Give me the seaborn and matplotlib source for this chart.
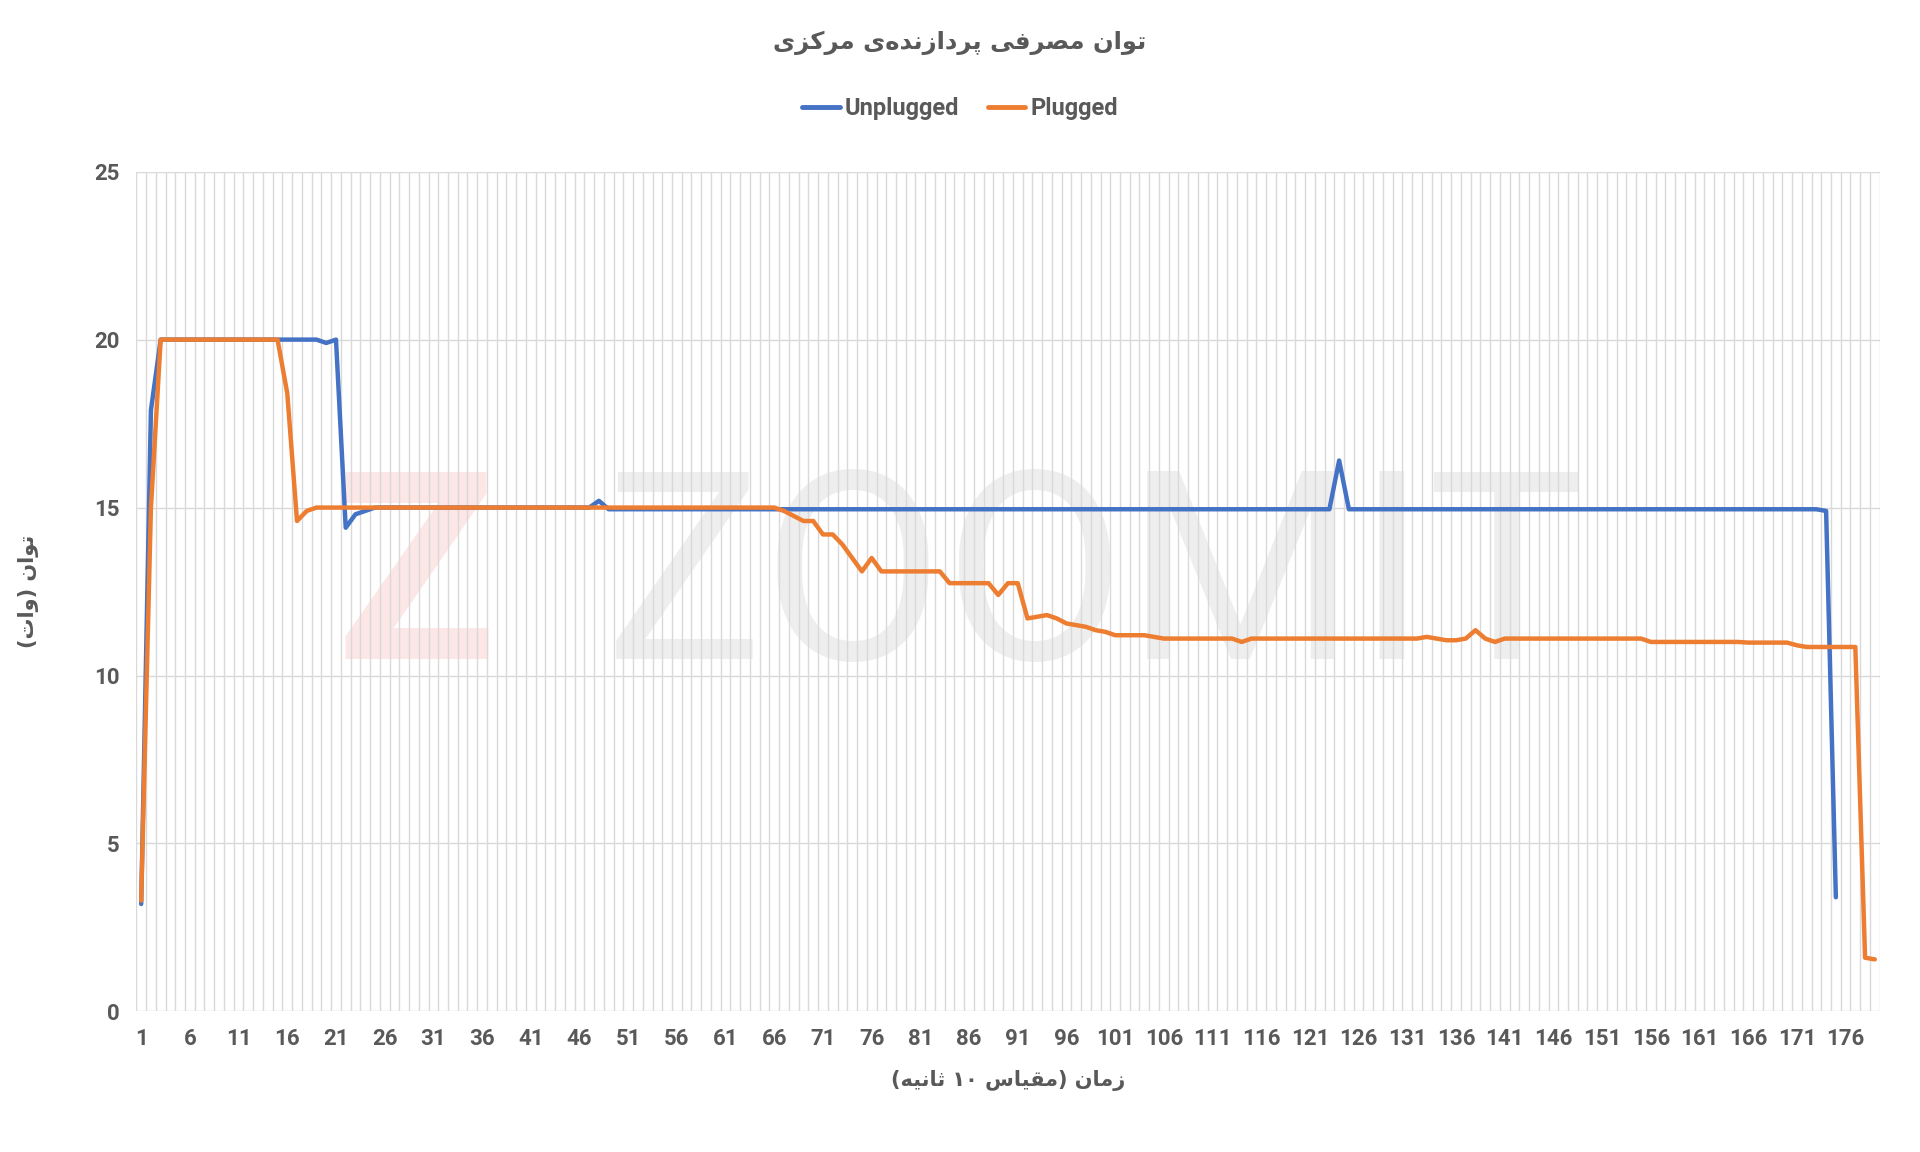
import numpy as np
import pandas as pd
import matplotlib
matplotlib.use("Agg")
import matplotlib.pyplot as plt
import seaborn as sns

# --- data (time index in 10 s steps) ---
unplugged = ([3.2, 17.9] + [20.0] * 17 + [19.9, 20.0] + [14.4, 14.8, 14.9]
             + [15.0] * 23 + [15.2] + [14.95] * 75 + [16.4] + [14.95] * 49
             + [14.9, 3.4])
plugged = ([3.3, 15.0] + [20.0] * 13 + [18.4, 14.6, 14.9] + [15.0] * 48
           + [14.9, 14.75, 14.6, 14.6]
           + [14.2, 14.2, 13.9, 13.5, 13.1, 13.5]
           + [13.1] * 7 + [12.75] * 5 + [12.4, 12.75, 12.75]
           + [11.7, 11.75, 11.8, 11.7, 11.55, 11.5, 11.45, 11.35, 11.3]
           + [11.2] * 4 + [11.15, 11.1] + [11.1] * 7 + [11.0] + [11.1] * 18
           + [11.15, 11.1, 11.05, 11.05, 11.1, 11.35, 11.1, 11.0]
           + [11.1] * 15 + [11.0] * 10 + [10.98] * 5 + [10.9] + [10.85] * 6
           + [1.6, 1.55])
n_points = len(plugged)
time_idx = np.arange(1, n_points + 1)
unplugged = unplugged + [np.nan] * (n_points - len(unplugged))

title_fa = "توان مصرفی پردازنده‌ی مرکزی"
ylabel_fa = "توان (وات)"
xlabel_fa = "زمان (مقیاس ۱۰ ثانیه)"

# --- tiny Persian shaper (matplotlib does no Arabic shaping / bidi) ---
FORMS = {  # isolated, final, initial, medial
    "ا": ("\uFE8D", "\uFE8E"), "د": ("\uFEA9", "\uFEAA"), "ر": ("\uFEAD", "\uFEAE"),
    "ز": ("\uFEAF", "\uFEB0"), "و": ("\uFEED", "\uFEEE"),
    "ت": ("\uFE95", "\uFE96", "\uFE97", "\uFE98"), "ث": ("\uFE99", "\uFE9A", "\uFE9B", "\uFE9C"),
    "س": ("\uFEB1", "\uFEB2", "\uFEB3", "\uFEB4"), "ص": ("\uFEB9", "\uFEBA", "\uFEBB", "\uFEBC"),
    "ف": ("\uFED1", "\uFED2", "\uFED3", "\uFED4"), "ق": ("\uFED5", "\uFED6", "\uFED7", "\uFED8"),
    "ک": ("\uFB8E", "\uFB8F", "\uFB90", "\uFB91"), "م": ("\uFEE1", "\uFEE2", "\uFEE3", "\uFEE4"),
    "ن": ("\uFEE5", "\uFEE6", "\uFEE7", "\uFEE8"), "ه": ("\uFEE9", "\uFEEA", "\uFEEB", "\uFEEC"),
    "ی": ("\uFBFC", "\uFBFD", "\uFBFE", "\uFBFF"), "پ": ("\uFB56", "\uFB57", "\uFB58", "\uFB59"),
}


def shape_fa(text):
    out = []
    for i, ch in enumerate(text):
        if ch == "\u200c":
            continue
        if ch not in FORMS:
            out.append(ch)
            continue
        prev = text[i - 1] if i > 0 else ""
        nxt = text[i + 1] if i + 1 < len(text) else ""
        join_prev = prev in FORMS and len(FORMS[prev]) == 4
        join_next = len(FORMS[ch]) == 4 and nxt in FORMS
        f = FORMS[ch]
        if join_prev and join_next:
            out.append(f[3])
        elif join_prev:
            out.append(f[1])
        elif join_next:
            out.append(f[2])
        else:
            out.append(f[0])
    # visual order: reverse, keep digit runs, mirror parentheses
    runs, cur = [], ""
    for ch in out:
        if ch.isdigit():
            cur += ch
        else:
            if cur:
                runs.append(cur)
                cur = ""
            runs.append({"(": ")", ")": "("}.get(ch, ch))
    if cur:
        runs.append(cur)
    return "".join(runs[::-1])


df = pd.DataFrame({
    "t": np.concatenate([time_idx, time_idx]),
    "power": np.concatenate([unplugged, plugged]),
    "series": ["Unplugged"] * n_points + ["Plugged"] * n_points,
})

sns.set_theme(style="white")
plt.rcParams["font.family"] = ["Roboto", "DejaVu Sans"]
text_col = "#595959"

fig = plt.figure(figsize=(19.2, 11.52), dpi=100)
ax = fig.add_axes([0.071, 0.122, 0.908, 0.729])

sns.lineplot(data=df, x="t", y="power", hue="series", ax=ax,
             palette={"Unplugged": "#4472C4", "Plugged": "#ED7D31"},
             linewidth=3.2, legend=False)

# faint watermark
ax.text(0.16, 0.505, "Z", transform=ax.transAxes, ha="center", va="center",
        fontsize=190, color="#fde6e6", fontweight="bold", zorder=0)
ax.text(0.55, 0.505, "ZOOMIT", transform=ax.transAxes, ha="center", va="center",
        fontsize=190, color="#eeeeee", zorder=0)

ax.set_xlim(0.5, n_points + 0.5)
ax.set_ylim(0, 25)
ax.set_xticks(time_idx[::5])
ax.set_xticks(np.arange(0.5, n_points + 1, 1.0), minor=True)
ax.set_yticks(range(0, 26, 5))
ax.grid(which="minor", axis="x", color="#d9d9d9", lw=1.0)
ax.grid(which="major", axis="y", color="#d9d9d9", lw=1.0)
ax.tick_params(which="both", length=0, labelsize=16, labelcolor=text_col, pad=12)
for lab in ax.get_xticklabels() + ax.get_yticklabels():
    lab.set_fontweight("bold")
for sp in ax.spines.values():
    sp.set_visible(False)

ax.set_xlabel(shape_fa(xlabel_fa), family=["DejaVu Sans"], fontsize=15,
              fontweight="bold", color=text_col, labelpad=14)
ax.set_ylabel(shape_fa(ylabel_fa), family=["DejaVu Sans"], fontsize=15,
              fontweight="bold", color=text_col, labelpad=40)
fig.text(0.5, 0.963, shape_fa(title_fa), family=["DejaVu Sans"], fontsize=17.5,
         fontweight="bold", color=text_col, ha="center", va="center")

handles = [plt.Line2D([], [], color="#4472C4", lw=3.5),
           plt.Line2D([], [], color="#ED7D31", lw=3.5)]
leg = fig.legend(handles, ["Unplugged", "Plugged"], loc="center",
                 bbox_to_anchor=(0.5, 0.906), ncol=2, frameon=False,
                 prop={"size": 17, "weight": "bold"}, handlelength=1.6,
                 handletextpad=0.2, columnspacing=1.2)
for t in leg.get_texts():
    t.set_color(text_col)

fig.savefig("out.png", dpi=100, facecolor="white")
